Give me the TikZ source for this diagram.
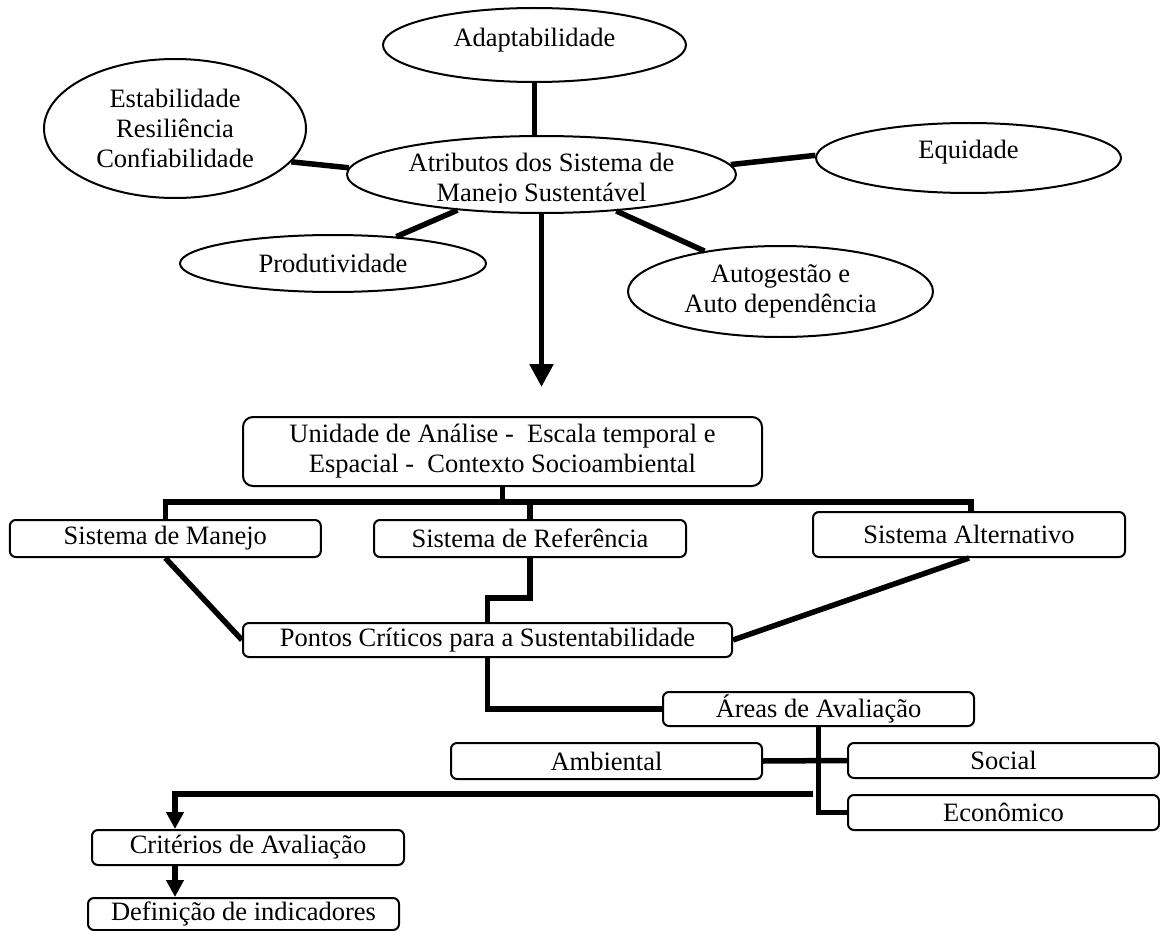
\documentclass[tikz,border=0pt]{standalone}
\usepackage{fontspec}
\setmainfont{Liberation Serif}
\usetikzlibrary{shapes.geometric,arrows.meta}
\begin{document}
\begin{tikzpicture}[x=1pt,y=-1pt,
  every node/.style={font=\fontsize{26.5}{30}\selectfont},
  oval/.style={draw,line width=2pt,ellipse,inner sep=0pt,align=center},
  sbox/.style={draw,line width=2pt,rounded corners=6pt,inner sep=0pt,align=center},
  conn/.style={line width=5.5pt,line join=miter},
  bigarr/.style={conn,-{Triangle[width=23pt,length=23pt]}},
  smallarr/.style={conn,-{Triangle[width=17pt,length=17pt]}}
]
\useasboundingbox (0,0) rectangle (1160,931);

% ellipses
\node[oval,minimum width=303pt,minimum height=74pt,text depth=14.5pt] (adapt) at (534.5,45) {Adaptabilidade};
\node[oval,minimum width=262pt,minimum height=139pt] (estab) at (175,128.5) {Estabilidade\\Resiliência\\Confiabilidade};
\node[oval,minimum width=389pt,minimum height=77pt] (atrib) at (541.5,174.5) {};
\begin{scope}
  \clip (330,140) rectangle (760,203);
  \node[align=center] (atrtxt) at (541.5,180.5) {Atributos dos Sistema de\\Manejo Sustentável};
\end{scope}
\node[oval,minimum width=305pt,minimum height=70pt,text depth=16.5pt] (equid) at (968.5,158) {Equidade};
\node[oval,minimum width=306pt,minimum height=57pt] (prod) at (333,263.5) {Produtividade};
\node[oval,minimum width=305pt,minimum height=91pt] (auto) at (780.5,291.5) {Autogestão e\\Auto dependência};

% top connectors
\draw[conn] (adapt.south) -- (adapt.south |- atrib.north);
\draw[conn] (estab.-16) -- (atrib.178);
\draw[conn] (prod.23) -- (atrib.-157);
\draw[conn] (atrib.3) -- (equid.179);
\draw[conn] (atrib.-26) -- (auto.152);
\coordinate (arrtip) at (541.5,387);
\draw[bigarr] (atrib.south) -- (arrtip);

% boxes
\node[sbox,rounded corners=10pt,minimum width=519pt,minimum height=69pt] (unid) at (502.5,451.5) {Unidade de Análise -\ \ Escala temporal e\\Espacial -\ \ Contexto Socioambiental};
\node[sbox,minimum width=311pt,minimum height=37pt] (man) at (165.3,538.5) {Sistema de Manejo};
\node[sbox,minimum width=312pt,minimum height=37pt] (ref) at (530,538.5) {Sistema de Referência};
\node[sbox,minimum width=312pt,minimum height=45pt] (alt) at (969,534.5) {Sistema Alternativo};
\node[sbox,minimum width=489pt,minimum height=34pt] (pon) at (487.5,640) {Pontos Críticos para a Sustentabilidade};
\node[sbox,minimum width=311pt,minimum height=34pt] (are) at (818.5,709) {Áreas de Avaliação};
\node[sbox,minimum width=311pt,minimum height=36pt] (amb) at (606.5,761) {Ambiental};
\node[sbox,minimum width=311pt,minimum height=35pt] (soc) at (1003.5,760.5) {Social};
\node[sbox,minimum width=311pt,minimum height=35pt] (eco) at (1003.5,812.5) {Econômico};
\node[sbox,minimum width=312pt,minimum height=35pt] (cri) at (248,847.5) {Critérios de Avaliação};
\node[sbox,minimum width=311pt,minimum height=32pt] (def) at (243.5,914) {Definição de indicadores};

% lower connectors
\coordinate (busR) at (971,502);
\draw[conn] (man.north) |- (busR) -- (busR |- alt.north);
\draw[conn] (unid.south) -- (unid.south |- busR);
\draw[conn] (ref.north) -- (ref.north |- busR);
\draw[conn] (man.south) -- (pon.west);
\draw[conn] (alt.south) -- (pon.east);
\coordinate (refmid) at (530,598);
\draw[conn] (ref.south) -- (refmid) -| (pon.north);
\draw[conn] (pon.south) |- (are.west);
\draw[conn] (are.south) |- (eco.west);
\draw[conn] (amb.east) -- (soc.west);
\coordinate (crst) at (813,794);
\coordinate (crturn) at (175,794);
\draw[smallarr] (crst) -- (crturn) -- (crturn |- cri.north);
\draw[smallarr] (crturn |- cri.south) -- (crturn |- def.north);
\end{tikzpicture}
\end{document}
